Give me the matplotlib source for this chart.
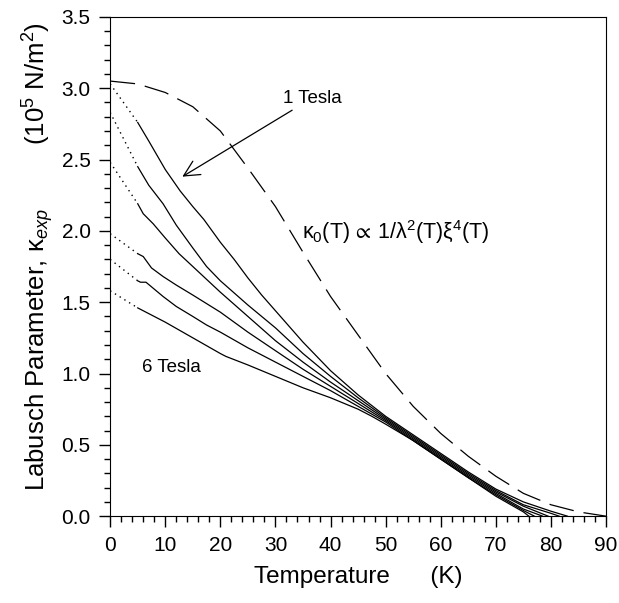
import numpy as np
import matplotlib
matplotlib.use("Agg")
import matplotlib.pyplot as plt
from matplotlib.ticker import MultipleLocator, FormatStrFormatter

plt.rcParams['font.family'] = ['Liberation Sans', 'DejaVu Sans']
plt.rcParams['mathtext.fontset'] = 'custom'
plt.rcParams['mathtext.rm'] = 'Liberation Sans'
plt.rcParams['mathtext.it'] = 'Liberation Sans:italic'
plt.rcParams['mathtext.fallback'] = 'stixsans'

# measured curves, 1 Tesla ... 6 Tesla
T_1 = [5, 7, 8.5, 10, 12.7, 15, 17, 20, 22.5, 25, 27.5, 30, 35, 40, 45, 50, 55, 60, 65, 70, 75, 80, 83]
K_1 = [2.76, 2.63, 2.53, 2.43, 2.28, 2.17, 2.08, 1.92, 1.80, 1.67, 1.55, 1.44, 1.22, 1.02, 0.85, 0.70, 0.57, 0.44, 0.31, 0.19, 0.10, 0.035, 0.0]
T_2 = [5, 7, 9.6, 12, 15, 17.5, 20, 25, 30, 35, 40, 45, 50, 55, 60, 65, 70, 75, 80, 81.5]
K_2 = [2.45, 2.32, 2.19, 2.04, 1.88, 1.75, 1.65, 1.48, 1.32, 1.14, 0.98, 0.83, 0.69, 0.56, 0.43, 0.30, 0.18, 0.08, 0.02, 0.0]
T_3 = [5, 6, 7.8, 10, 12.5, 15, 17.5, 20, 25, 30, 35, 40, 45, 50, 55, 60, 65, 70, 75, 79.5]
K_3 = [2.19, 2.12, 2.05, 1.95, 1.84, 1.75, 1.66, 1.57, 1.40, 1.23, 1.08, 0.94, 0.81, 0.68, 0.55, 0.42, 0.29, 0.17, 0.07, 0.0]
T_4 = [5, 6, 7.5, 9.6, 12, 15, 17.5, 20, 25, 30, 35, 40, 45, 50, 55, 60, 65, 70, 75, 78.5]
K_4 = [1.84, 1.82, 1.74, 1.68, 1.62, 1.55, 1.49, 1.43, 1.29, 1.16, 1.03, 0.91, 0.79, 0.67, 0.54, 0.41, 0.28, 0.16, 0.05, 0.0]
T_5 = [5, 5.5, 6.5, 9.6, 12, 15, 17.5, 20, 25, 30, 35, 40, 45, 50, 55, 60, 65, 70, 75, 77]
K_5 = [1.65, 1.64, 1.64, 1.54, 1.47, 1.40, 1.34, 1.29, 1.18, 1.08, 0.98, 0.88, 0.77, 0.66, 0.53, 0.40, 0.27, 0.15, 0.04, 0.0]
T_6 = [5, 10, 15, 20, 21, 25, 30, 35, 40, 45, 47.5, 50, 55, 60, 65, 70, 75, 76]
K_6 = [1.46, 1.36, 1.25, 1.14, 1.12, 1.06, 0.98, 0.90, 0.83, 0.75, 0.70, 0.645, 0.53, 0.40, 0.27, 0.14, 0.03, 0.0]

# extrapolated values at T = 0
K_zero = [3.03, 2.83, 2.48, 1.98, 1.80, 1.58]

# kappa_0(T) model curve
T_model = [0, 5, 10, 15, 20, 25, 30, 35, 40, 45, 50, 55, 60, 65, 70, 75, 80, 85, 90]
K_model = [3.05, 3.03, 2.97, 2.87, 2.70, 2.44, 2.17, 1.85, 1.54, 1.27, 1.00, 0.77, 0.58, 0.42, 0.28, 0.16, 0.08, 0.03, 0.0]

curves = [(T_1, K_1), (T_2, K_2), (T_3, K_3), (T_4, K_4), (T_5, K_5), (T_6, K_6)]

fig = plt.figure(figsize=(6.19, 6.03), dpi=100)
ax = fig.add_axes([0.178, 0.144, 0.801, 0.828])

for (t, k), k0 in zip(curves, K_zero):
    ax.plot(t, k, color='black', lw=0.9)
    ax.plot([0, t[0]], [k0, k[0]], color='black', lw=1.0, linestyle=(0, (1, 3)))

ax.plot(T_model, K_model, color='black', lw=0.9, dashes=(20, 8))

ax.set_xlim(0, 90)
ax.set_ylim(0, 3.5)
ax.xaxis.set_major_locator(MultipleLocator(10))
ax.xaxis.set_minor_locator(MultipleLocator(2))
ax.yaxis.set_major_locator(MultipleLocator(0.5))
ax.yaxis.set_minor_locator(MultipleLocator(0.1))
ax.yaxis.set_major_formatter(FormatStrFormatter('%.1f'))
ax.tick_params(which='major', length=8, width=1, labelsize=15, direction='out', pad=6)
ax.tick_params(which='minor', length=4, width=1, direction='out')

ax.set_xlabel('Temperature      (K)', fontsize=17.5, labelpad=8)
ax.set_ylabel(r'Labusch Parameter, $\mathrm{\kappa}_{\mathit{exp}}$         (10$^5$ N/m$^2$)',
              fontsize=18.5)
ax.yaxis.set_label_coords(-0.11, 0.52)

ax.annotate('1 Tesla', xy=(13.1, 2.38), xytext=(31.3, 2.93), fontsize=13.5,
            va='center', ha='left',
            arrowprops=dict(arrowstyle='->', color='black', lw=0.9,
                            shrinkA=1, shrinkB=0, mutation_scale=28))
ax.text(5.8, 1.04, '6 Tesla', fontsize=13.5, va='center', ha='left')
ax.text(34.8, 1.99,
        r'$\mathrm{\kappa}_0(\mathrm{T})\,\propto\,1/\mathrm{\lambda}^2(\mathrm{T})\mathrm{\xi}^4(\mathrm{T})$',
        fontsize=15.5, va='center', ha='left')

fig.savefig('out.png', dpi=100)
